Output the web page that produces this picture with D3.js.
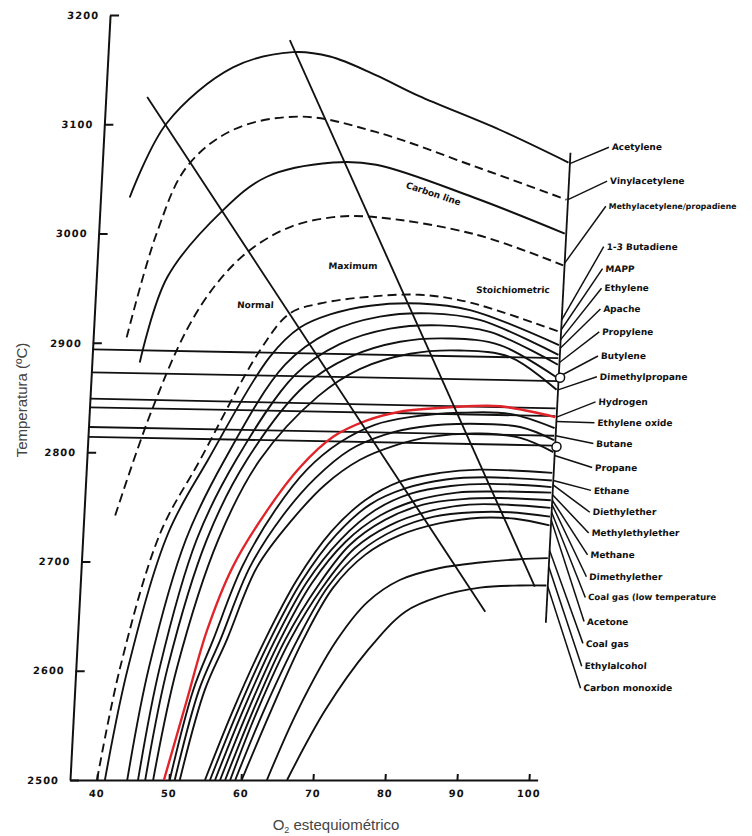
<!DOCTYPE html>
<html>
<head>
<meta charset="utf-8">
<script src="https://cdn.jsdelivr.net/npm/d3@7"></script>
<style>
body { margin: 0; background: #fff; }
svg { display: block; }
.scan text { font-family: "DejaVu Sans", sans-serif; font-weight: bold; fill: #111; }
.title { font-family: "Liberation Sans", Arial, sans-serif; fill: #444; }
</style>
</head>
<body>
<div id="chart"></div>
<script>
// each series is [O2 % stoichiometric, flame temperature ºC]
const acetylene = [[40.3,3033],[44.9,3101],[53.7,3152],[61.9,3166],[67.1,3162],[73.6,3145],[79.7,3126],[91.2,3095],[101,3065]];
const vinylacetylene = [[40.9,2905],[44.3,3000],[48.0,3061],[54.2,3095],[63.4,3107],[74.0,3093],[88.2,3061],[101,3031]];
const methylacetylene = [[42.9,2882],[46.1,2960],[53.3,3021],[59.2,3052],[68.3,3065],[74.3,3063],[88.1,3033],[101,3000]];
const butadiene = [[40.6,2742],[44.7,2834],[49.2,2912],[53.1,2955],[57.4,2985],[62.8,3006],[68.7,3015],[74.7,3015],[88.7,2999],[101,2971]];
const mapp = [[40.0,2500],[42.4,2603],[47.0,2726],[52.0,2793],[59.5,2893],[63.4,2927],[67.5,2936],[74.0,2942],[81.3,2944],[88.3,2937],[101,2910]];
const ethylene = [[41.1,2500],[43.5,2603],[48.1,2726],[53.1,2793],[60.9,2887],[64.9,2914],[69.0,2926],[74.5,2934],[81.4,2936],[88.4,2930],[101,2898]];
const apache = [[44.2,2500],[46.4,2603],[50.6,2720],[55.4,2793],[63.1,2880],[69.1,2910],[75.9,2924],[82.8,2927],[89.8,2921],[101,2889]];
const propylene = [[45.7,2500],[47.9,2603],[52.1,2720],[57.0,2793],[64.6,2871],[70.6,2899],[77.4,2913],[84.3,2916],[91.3,2910],[101,2880]];
const butylene = [[46.7,2500],[49.0,2603],[53.5,2720],[58.5,2793],[66.0,2861],[72.0,2887],[78.9,2901],[85.8,2904],[92.8,2898],[101,2868]];
const dimethylpropane = [[47.8,2500],[50.3,2603],[55.1,2720],[60.3,2793],[67.9,2851],[73.5,2876],[80.4,2890],[87.3,2893],[94.3,2887],[101,2857]];
const hydrogen = [[49.3,2500],[51.9,2573],[54.2,2637],[57.3,2695],[61.7,2747],[65.9,2786],[70.3,2814],[74.9,2829],[79.4,2837],[86.3,2841],[93.3,2842],[101,2832]];
const ethyleneOxide = [[50.1,2500],[52.7,2582],[55.1,2628],[58.6,2695],[62.8,2747],[66.9,2784],[71.3,2809],[76.0,2825],[80.8,2832],[87.8,2836],[94.7,2835],[101,2822]];
const butane = [[50.8,2500],[53.5,2582],[56.1,2628],[59.7,2695],[63.9,2742],[68.1,2776],[72.7,2802],[77.5,2816],[82.3,2823],[89.2,2826],[96.2,2823],[101,2811]];
const propane = [[51.5,2500],[54.3,2582],[57.0,2628],[60.7,2695],[65.2,2738],[69.5,2770],[74.2,2793],[78.9,2806],[83.8,2814],[90.7,2817],[96.3,2813],[101,2800]];
const ethane = [[55.0,2500],[58.4,2564],[62.3,2628],[66.3,2683],[70.7,2727],[75.2,2756],[79.9,2773],[85.4,2781],[90.9,2784],[101,2781]];
const diethylether = [[55.7,2500],[59.1,2564],[63.0,2628],[67.0,2682],[71.4,2724],[75.9,2752],[80.8,2767],[86.3,2775],[91.7,2777],[101,2774]];
const methylethylether = [[56.4,2500],[59.8,2564],[63.7,2628],[67.7,2681],[72.1,2720],[76.7,2747],[81.5,2762],[87.0,2769],[92.4,2771],[101,2768]];
const methane = [[57.1,2500],[60.5,2564],[64.4,2628],[68.4,2680],[72.8,2718],[77.4,2742],[82.4,2756],[87.9,2763],[93.2,2764],[101,2763]];
const dimethylether = [[57.8,2500],[61.2,2564],[65.1,2628],[69.3,2678],[73.4,2715],[78.1,2738],[83.3,2752],[88.8,2757],[93.9,2758],[101,2756]];
const coalGasLow = [[58.5,2500],[61.8,2564],[65.8,2628],[70.0,2677],[74.1,2712],[78.8,2733],[84.2,2746],[89.7,2752],[94.7,2752],[101,2749]];
const acetone = [[59.2,2500],[62.7,2564],[66.8,2628],[70.7,2677],[74.9,2709],[79.6,2729],[84.9,2741],[90.4,2745],[95.4,2745],[101,2741]];
const coalGas = [[60.1,2500],[63.7,2564],[67.6,2628],[71.4,2676],[75.6,2706],[80.3,2724],[85.8,2735],[91.3,2740],[96.2,2739],[101,2733]];
const ethylalcohol = [[63.6,2500],[67.4,2564],[72.3,2628],[76.3,2663],[80.6,2683],[86.1,2694],[91.6,2699],[97.1,2702],[101,2703]];
const carbonMonoxide = [[66.4,2500],[71.2,2564],[76.7,2619],[81.6,2654],[86.3,2668],[91.8,2676],[97.3,2678],[101,2678]];

const names = ["Acetylene","Vinylacetylene","Methylacetylene/propadiene","1-3 Butadiene","MAPP","Ethylene","Apache",
  "Propylene","Butylene","Dimethylpropane","Hydrogen","Ethylene oxide","Butane","Propane","Ethane","Diethylether",
  "Methylethylether","Methane","Dimethylether","Coal gas (low temperature","Acetone","Coal gas","Ethylalcohol","Carbon monoxide"];
const series = [acetylene, vinylacetylene, methylacetylene, butadiene, mapp, ethylene, apache, propylene, butylene,
  dimethylpropane, hydrogen, ethyleneOxide, butane, propane, ethane, diethylether, methylethylether, methane,
  dimethylether, coalGasLow, acetone, coalGas, ethylalcohol, carbonMonoxide];
const dashed = ["Vinylacetylene", "1-3 Butadiene", "MAPP"];

// temperature where each label row sits, and where its leader meets the stoichiometric line
const labelTemps = [3079,3048,3025,2988,2968,2950,2931,2910,2888,2869,2846,2827,2808,2786,2765,2745,2726,2706,2686,2667,2645,2625,2604,2584];
const leaderTemps = [3064,3031,2973,2921,2912,2903,2895,2882,2869,2857,2832,2828,2815,2797,2774,2770,2761,2756,2752,2745,2738,2710,2695,2677];

// flat lines from the axis [T at axis, T at stoichiometric]
const flatLines = [[2894,2886],[2873,2865],[2849,2840],[2841,2833],[2823,2815],[2814,2806]];
const normalLine = [[42.0,3125],[92.7,2654]];
const maximumLine = [[61.4,3177],[99.4,2677]];
const stoichLine = [[101.2,2644],[101.2,3074]];
const junctions = [[101.4,2868],[101.4,2805]];

const notes = [
  { text: "Normal", o2: 56.0, t: 2932, angle: 0 },
  { text: "Maximum", o2: 68.4, t: 2968, angle: 0 },
  { text: "Stoichiometric", o2: 89.1, t: 2946, angle: 0 },
  { text: "Carbon line", o2: 78.5, t: 3042, angle: 18 }
];

const xTicks = [40, 50, 60, 70, 80, 90, 100];
const yTicks = [2500, 2600, 2700, 2800, 2900, 3000, 3100, 3200];

const width = 752, height = 836;
const ink = "#111";

const svg = d3.select("#chart").append("svg")
  .attr("width", width)
  .attr("height", height);

svg.append("rect").attr("width", width).attr("height", height).attr("fill", "#fff");

let x = d3.scaleLinear().domain([36.25, 101.2]).range([0, 467.6]);
let y = d3.scaleLinear().domain([2500, 3200]).range([0, -765]);

// the scanned page is slightly sheared
let g = svg.append("g")
  .attr("class", "scan")
  .attr("transform", "translate(70,780) skewX(-3)");

let line = d3.line()
  .x(d => x(d[0]))
  .y(d => y(d[1]))
  .curve(d3.curveCatmullRom.alpha(0.5));

// axes
let yAxis = d3.axisLeft(y).tickValues(yTicks).tickSizeInner(-9).tickSizeOuter(0).tickPadding(11).tickFormat(d3.format("d"));
let xAxis = d3.axisBottom(x).tickValues(xTicks).tickSizeInner(-6).tickSizeOuter(0).tickPadding(10).tickFormat(d3.format("d"));

let ya = g.append("g").call(yAxis);
let xa = g.append("g").call(xAxis);
[ya, xa].forEach(a => {
  a.select(".domain").attr("stroke", ink).attr("stroke-width", 2);
  a.selectAll(".tick line").attr("stroke", ink).attr("stroke-width", 2);
  a.selectAll(".tick text").attr("font-size", 10).attr("letter-spacing", 1)
    .attr("font-family", "DejaVu Sans, sans-serif").attr("font-weight", "bold").attr("fill", ink);
});

// flat lines
g.selectAll(".flat")
  .data(flatLines)
  .enter().append("line")
  .attr("class", "flat")
  .attr("x1", x(36.25)).attr("x2", x(101))
  .attr("y1", d => y(d[0])).attr("y2", d => y(d[1]))
  .attr("stroke", ink).attr("stroke-width", 1.8);

// curves
g.selectAll(".curve")
  .data(series.map((s, i) => ({ name: names[i], values: s })))
  .enter().append("path")
  .attr("class", "curve")
  .attr("d", d => line(d.values))
  .attr("fill", "none")
  .attr("stroke", d => d.name === "Hydrogen" ? "#e0242a" : ink)
  .attr("stroke-width", d => d.name === "Hydrogen" ? 2.4 : 1.9)
  .attr("stroke-dasharray", d => dashed.includes(d.name) ? "9,5" : null);

// guide lines
[normalLine, maximumLine, stoichLine].forEach(l => {
  g.append("path")
    .attr("d", d3.line().x(d => x(d[0])).y(d => y(d[1]))(l))
    .attr("fill", "none").attr("stroke", ink).attr("stroke-width", 1.8);
});

g.selectAll(".note")
  .data(notes)
  .enter().append("text")
  .attr("class", "note")
  .attr("transform", d => "translate(" + x(d.o2) + "," + y(d.t) + ") rotate(" + d.angle + ")")
  .attr("font-size", 9)
  .text(d => d.text);

// leaders and labels
let labels = g.selectAll(".label")
  .data(names.map((n, i) => ({ name: n, lt: labelTemps[i], et: leaderTemps[i] })))
  .enter().append("g")
  .attr("class", "label");

labels.append("line")
  .attr("x1", x(101.2)).attr("y1", d => y(d.et))
  .attr("x2", x(106.5)).attr("y2", d => y(d.lt))
  .attr("stroke", ink).attr("stroke-width", 1.5);

labels.append("text")
  .attr("x", x(106.9))
  .attr("y", d => y(d.lt))
  .attr("dy", "0.35em")
  .attr("font-size", 9)
  .text(d => d.name)
  .each(function () {
    // shrink a label that would run off the right edge
    let w = this.getComputedTextLength();
    if (w > 128) d3.select(this).attr("font-size", (9 * 128 / w).toFixed(2));
  });

g.selectAll(".junction")
  .data(junctions)
  .enter().append("circle")
  .attr("cx", d => x(d[0])).attr("cy", d => y(d[1]))
  .attr("r", 4.5)
  .attr("fill", "#fff").attr("stroke", ink).attr("stroke-width", 1.5);

// axis titles
svg.append("text")
  .attr("class", "title")
  .attr("transform", "translate(27,400) rotate(-90)")
  .attr("text-anchor", "middle")
  .attr("font-size", 15)
  .text("Temperatura (ºC)");

let xt = svg.append("text")
  .attr("class", "title")
  .attr("x", 336).attr("y", 830)
  .attr("text-anchor", "middle")
  .attr("font-size", 15);
xt.append("tspan").text("O");
xt.append("tspan").attr("font-size", 9).attr("dy", 3).text("2");
xt.append("tspan").attr("dy", -3).text(" estequiométrico");
</script>
</body>
</html>
